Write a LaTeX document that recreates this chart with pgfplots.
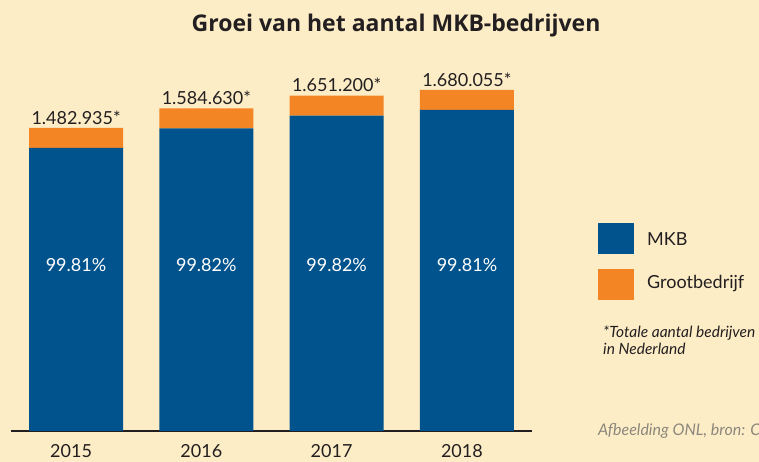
\documentclass[border=0pt]{standalone}
\usepackage{pgfplots}
\pgfplotsset{compat=1.18}
\usepackage{fontspec}
\setmainfont{Lato}
\newfontfamily\titlefont{Open Sans}
\definecolor{bg}{RGB}{253,237,199}
\definecolor{mkb}{RGB}{0,83,140}
\definecolor{groot}{RGB}{243,133,37}
\definecolor{txt}{RGB}{35,31,32}
\definecolor{src}{RGB}{140,135,125}
\begin{document}
\begin{tikzpicture}[x=1pt,y=1pt]
\clip (0,0) rectangle (759,462);
\fill[bg] (0,0) rectangle (759,462);
\node[anchor=base, inner sep=0pt, font=\titlefont\bfseries\fontsize{23}{23}\selectfont, text=txt] at (396,430) {Groei van het aantal MKB-bedrijven};
\begin{axis}[
  at={(11pt,31pt)}, anchor=south west,
  scale only axis, width=521pt, height=371pt,
  xmin=-0.5, xmax=3.5, ymin=0, ymax=371,
  ybar stacked, bar width=94pt,
  axis x line*=bottom, hide y axis,
  x axis line style={draw=txt, line width=1.2pt},
  xtick={0,1,2,3}, xticklabels={2015,2016,2017,2018},
  major tick length=0pt,
  xticklabel style={font=\fontsize{18}{18}\selectfont, text=txt, anchor=base, inner sep=0pt, yshift=-27pt, xshift=-5pt},
  clip=false,
]
% drawn bar heights (the chart's value axis is hidden and not to scale)
% MKB segment
\addplot[fill=mkb, draw=none] coordinates {(0,283.0) (1,302.6) (2,315.4) (3,321.0)};
% Grootbedrijf segment, labelled with the total number of companies
\addplot[fill=groot, draw=none,
  nodes near coords, point meta=explicit symbolic,
  every node near coord/.append style={font=\fontsize{18}{18}\selectfont, text=txt, anchor=base, inner sep=0pt, yshift=13.7pt}]
  coordinates {(0,20) [1.482.935*] (1,20) [1.584.630*] (2,20) [1.651.200*] (3,20) [1.680.055*]};
\end{axis}
\foreach \x/\p in {76/99.81, 206.3/99.82, 336.7/99.82, 467/99.81}
  \node[anchor=base, inner sep=0pt, text=white, font=\fontsize{18}{18}\selectfont] at (\x,190) {\p\%};
\fill[mkb] (598,208) rectangle (634,239);
\fill[groot] (598,162) rectangle (634,193);
\node[anchor=west, inner sep=0pt, font=\fontsize{18}{18}\selectfont, text=txt] at (647,223) {MKB};
\node[overlay, anchor=west, inner sep=0pt, font=\fontsize{18}{18}\selectfont, text=txt] at (647,178) {Grootbedrijf};
\node[overlay, anchor=west, inner sep=0pt, font=\itshape\fontsize{15.5}{15.5}\selectfont, text=txt] at (603,129) {*Totale aantal bedrijven};
\node[overlay, anchor=west, inner sep=0pt, font=\itshape\fontsize{15.5}{15.5}\selectfont, text=txt] at (603,113) {in Nederland};
\node[overlay, anchor=west, inner sep=0pt, font=\itshape\fontsize{16}{16}\selectfont, text=src] at (598,31) {Afbeelding ONL, bron: CBS};
\end{tikzpicture}
\end{document}
